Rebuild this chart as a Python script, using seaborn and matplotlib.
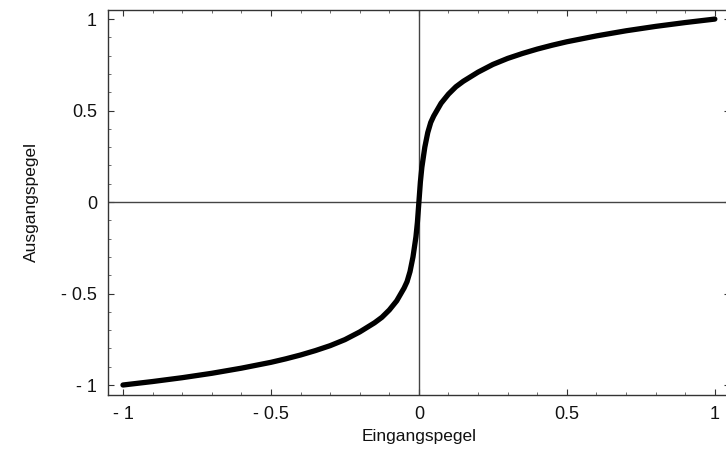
import matplotlib
matplotlib.use("Agg")
import matplotlib.pyplot as plt
import seaborn as sns
import pandas as pd
from matplotlib.ticker import MultipleLocator

# values (positive half; curve is point-symmetric)
x_pos = [0.0, 0.005, 0.01, 0.02, 0.03, 0.04, 0.05, 0.075, 0.1, 0.125, 0.15, 0.2, 0.25, 0.3,
         0.35, 0.4, 0.45, 0.5, 0.6, 0.7, 0.8, 0.9, 1.0]
y_pos = [0.0, 0.11, 0.19, 0.30, 0.38, 0.435, 0.47, 0.54, 0.59, 0.63, 0.66, 0.71, 0.752, 0.785,
         0.812, 0.836, 0.857, 0.876, 0.908, 0.936, 0.96, 0.981, 1.0]

x_vals = [-v for v in x_pos[::-1]] + x_pos[1:]
y_vals = [-v for v in y_pos[::-1]] + y_pos[1:]

tick_vals = [-1, -0.5, 0, 0.5, 1]
tick_labels = ["- 1", "- 0.5", "0", "0.5", "1"]

df = pd.DataFrame({"Eingangspegel": x_vals, "Ausgangspegel": y_vals})

sns.set_theme(style="white")
plt.rcParams["font.family"] = ["Liberation Sans", "DejaVu Sans"]

fig = plt.figure(figsize=(7.26, 4.51), dpi=100)
ax = fig.add_axes([0.149, 0.124, 0.856, 0.854])

ax.axhline(0, color="#444444", lw=1.0, zorder=1)
ax.axvline(0, color="#444444", lw=1.0, zorder=1)
sns.lineplot(data=df, x="Eingangspegel", y="Ausgangspegel", ax=ax,
             color="black", lw=3.8, estimator=None, zorder=3)
ax.lines[-1].set_solid_joinstyle("round")
ax.lines[-1].set_solid_capstyle("round")

ax.set_xlim(-1.05, 1.05)
ax.set_ylim(-1.055, 1.05)
ax.set_xticks(tick_vals)
ax.set_xticklabels(tick_labels)
ax.set_yticks(tick_vals)
ax.set_yticklabels(tick_labels)
ax.xaxis.set_minor_locator(MultipleLocator(0.1))
ax.yaxis.set_minor_locator(MultipleLocator(0.1))
ax.tick_params(which="major", direction="in", length=4, width=0.8, color="#333333",
               labelsize=13, labelcolor="#111111", pad=8, top=True, right=True, bottom=True, left=True)
ax.tick_params(which="minor", direction="in", length=2, width=0.6, color="#555555",
               top=True, right=True, bottom=True, left=True)
for s in ax.spines.values():
    s.set_color("#333333")
    s.set_linewidth(1.0)

ax.set_xlabel("Eingangspegel", fontsize=12.5, labelpad=4, color="#111111")
ax.set_ylabel("Ausgangspegel", fontsize=12.5, labelpad=16, color="#111111")

fig.savefig("out.png", dpi=100)
